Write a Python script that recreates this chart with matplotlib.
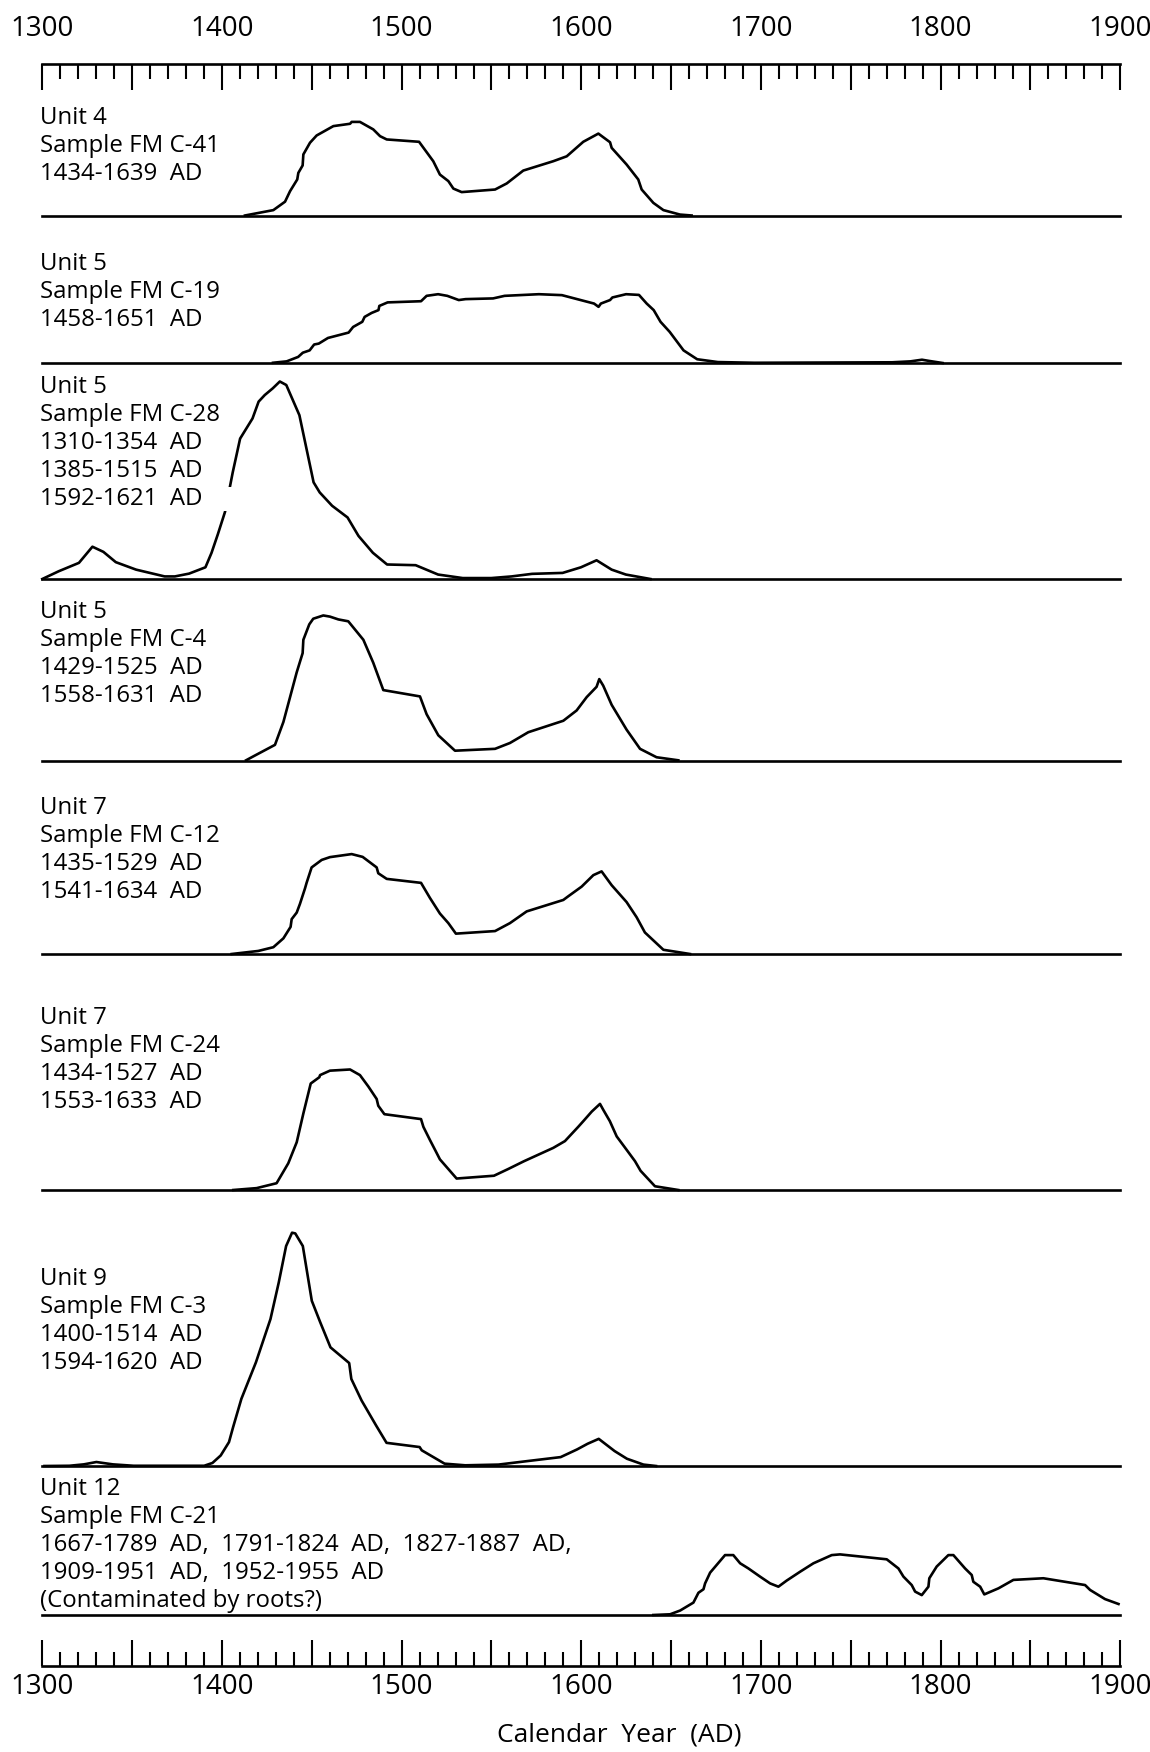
import matplotlib
matplotlib.use("Agg")
import matplotlib.pyplot as plt
from matplotlib.ticker import MultipleLocator, FuncFormatter

plt.rcParams['font.family'] = ['Open Sans', 'DejaVu Sans']

# Calibrated age distributions.
# Relative probability, tallest peak (FM C-3) = 100.
c41_year = [1412.8, 1428.6, 1435.1, 1437.9, 1441.9, 1442.5, 1444.9, 1445.3, 1449.0, 1452.7,
            1462.0, 1471.3, 1472.2, 1476.8, 1484.2, 1488.0, 1491.7, 1509.7, 1517.6, 1521.3,
            1526.0, 1528.8, 1533.4, 1552.0, 1558.5, 1567.7, 1584.4, 1591.9, 1601.1, 1609.5,
            1616.0, 1616.9, 1625.2, 1631.7, 1633.6, 1640.1, 1645.7, 1654.9, 1661.4]
c41_prob = [0, 2.3, 5.9, 10.4, 15.4, 18.2, 21.4, 26.1, 31.1, 34.2,
            38.2, 39.2, 40.0, 40.0, 36.8, 33.9, 32.5, 31.5, 23.2, 17.5,
            14.7, 11.5, 10.0, 11.1, 13.7, 19.2, 23.2, 25.3, 31.5, 35.0,
            31.3, 28.9, 21.8, 15.4, 11.1, 5.4, 2.3, 0.4, 0]

c19_year = [1428.4, 1436.0, 1442.4, 1445.0, 1448.8, 1451.3, 1453.9, 1459.0, 1470.5, 1473.0,
            1478.1, 1479.4, 1483.3, 1487.1, 1487.6, 1492.2, 1510.8, 1513.9, 1520.3, 1525.4,
            1531.8, 1535.6, 1550.9, 1557.3, 1576.4, 1589.2, 1607.1, 1609.6, 1610.9, 1616.0,
            1617.3, 1624.9, 1632.1, 1636.4, 1640.3, 1644.1, 1649.2, 1656.9, 1664.5, 1676.0,
            1696.4, 1773.0, 1783.2, 1789.6, 1793.5, 1801.1]
c19_prob = [0.1, 0.7, 2.6, 4.4, 5.4, 7.9, 8.3, 10.7, 13.0, 15.4,
            17.6, 19.7, 21.4, 22.6, 24.4, 25.9, 26.4, 28.7, 29.4, 28.7,
            26.9, 27.3, 27.6, 28.7, 29.4, 29.0, 25.4, 24.0, 25.4, 26.9,
            28.0, 29.4, 29.1, 25.4, 22.6, 17.6, 13.3, 5.4, 1.6, 0.4,
            0.1, 0.3, 0.7, 1.4, 0.9, 0]

c28_year = [1300.0, 1309.1, 1320.4, 1327.9, 1334.0, 1340.9, 1352.2, 1368.1, 1373.8, 1381.7,
            1390.8, 1394.2, 1397.7, 1401.7, 1406.0, 1410.1, 1417.0, 1420.4, 1423.8, 1428.3,
            1432.2, 1435.8, 1443.1, 1451.0, 1454.4, 1461.3, 1469.9, 1476.0, 1484.0, 1491.9,
            1507.8, 1520.3, 1534.0, 1549.9, 1561.2, 1572.6, 1589.6, 1599.8, 1608.5, 1616.9,
            1624.8, 1638.5]
c28_prob = [0, 3.3, 6.9, 13.8, 11.6, 7.2, 4.0, 1.1, 1.1, 2.3,
            5.0, 11.2, 19.1, 28.7, 45.6, 60.0, 68.6, 75.8, 78.6, 81.5,
            84.4, 82.9, 70.0, 41.3, 37.0, 31.3, 26.3, 18.4, 11.2, 6.2,
            5.9, 1.9, 0.4, 0.4, 1.1, 2.2, 2.6, 5.0, 8.0, 4.0,
            1.9, 0]

c4_year = [1413.4, 1417.5, 1429.5, 1434.2, 1437.9, 1441.6, 1444.9, 1445.3, 1448.6, 1450.8,
           1456.4, 1460.1, 1464.8, 1470.3, 1478.7, 1484.2, 1489.8, 1510.2, 1513.9, 1520.4,
           1529.7, 1552.0, 1560.3, 1570.5, 1590.0, 1597.4, 1603.0, 1608.5, 1610.0, 1612.2,
           1616.9, 1625.2, 1632.7, 1641.9, 1654.0]
c4_prob = [0.3, 2.0, 6.9, 16.7, 27.3, 37.9, 46.1, 51.8, 58.4, 60.8,
           62.2, 61.7, 60.5, 59.7, 51.8, 42.0, 30.3, 27.6, 20.0, 11.0,
           4.4, 5.2, 7.7, 12.3, 17.2, 21.6, 27.3, 31.7, 35.0, 32.2,
           24.0, 13.4, 5.2, 1.6, 0.3]

c12_year = [1405.4, 1420.2, 1428.6, 1434.2, 1438.2, 1438.8, 1441.6, 1443.4, 1446.2, 1447.1,
            1449.9, 1455.5, 1460.1, 1472.2, 1478.3, 1486.1, 1487.0, 1491.7, 1510.8, 1515.8,
            1521.3, 1526.0, 1530.2, 1552.0, 1560.3, 1569.6, 1590.0, 1592.8, 1600.2, 1606.7,
            1611.3, 1616.9, 1625.2, 1630.8, 1635.4, 1645.7, 1660.5]
c12_prob = [0, 1.3, 2.9, 6.7, 11.6, 14.9, 17.7, 21.4, 28.0, 30.4,
            37.0, 40.2, 41.4, 42.7, 41.5, 37.0, 34.5, 32.1, 30.4, 23.9,
            17.3, 13.2, 8.7, 9.8, 13.2, 18.2, 23.1, 24.7, 28.8, 33.7,
            35.3, 29.4, 22.2, 15.7, 9.2, 1.8, 0]

c24_year = [1406.3, 1419.3, 1430.4, 1436.9, 1441.6, 1445.3, 1449.4, 1454.2, 1454.6, 1460.1,
            1471.3, 1476.8, 1481.5, 1486.1, 1487.0, 1490.4, 1510.8, 1512.1, 1515.8, 1519.1,
            1521.3, 1530.6, 1551.4, 1559.4, 1568.1, 1584.4, 1590.9, 1598.3, 1601.1, 1605.8,
            1610.4, 1612.2, 1615.9, 1619.7, 1625.2, 1629.9, 1633.0, 1641.0, 1654.0]
c24_prob = [0, 0.8, 2.9, 11.4, 20.4, 32.7, 45.5, 48.2, 49.1, 51.0,
            51.5, 49.1, 44.2, 38.9, 36.0, 32.4, 30.3, 27.0, 21.3, 16.4,
            13.1, 4.9, 6.1, 9.0, 12.3, 18.0, 20.9, 27.0, 29.4, 33.5,
            36.8, 34.3, 29.4, 22.9, 17.2, 12.3, 8.2, 1.6, 0]

c3_year = [1301.2, 1315.1, 1323.1, 1330.1, 1339.3, 1350.8, 1390.1, 1394.7, 1399.3, 1403.9,
           1406.2, 1410.8, 1418.9, 1427.0, 1431.6, 1435.7, 1439.0, 1440.8, 1445.0, 1450.0,
           1454.7, 1460.4, 1470.8, 1472.0, 1477.7, 1485.8, 1491.6, 1510.0, 1511.2, 1523.9,
           1535.4, 1553.9, 1570.0, 1588.5, 1597.7, 1603.5, 1609.7, 1618.5, 1625.4, 1634.6,
           1641.6]
c3_prob = [0, 0.1, 0.7, 1.7, 0.7, 0.1, 0.1, 1.3, 4.5, 10.2,
           16.6, 28.7, 44.3, 62.8, 78.4, 94.0, 99.7, 99.4, 94.0, 70.6,
           61.4, 50.7, 44.0, 37.2, 28.0, 17.3, 9.9, 8.1, 6.7, 1.0,
           0.3, 0.6, 2.1, 3.8, 7.1, 9.5, 11.6, 6.4, 3.1, 0.6,
           0]

c21_year = [1640.1, 1649.4, 1655.0, 1662.4, 1665.2, 1668.0, 1668.9, 1671.7, 1680.0, 1684.6,
            1688.4, 1693.0, 1699.5, 1705.1, 1709.7, 1714.3, 1721.8, 1729.2, 1739.4, 1744.0,
            1770.0, 1776.5, 1779.3, 1783.9, 1785.8, 1789.5, 1793.2, 1793.7, 1797.8, 1804.3,
            1807.1, 1813.6, 1817.3, 1818.2, 1822.0, 1824.3, 1832.2, 1840.5, 1857.2, 1880.4,
            1883.2, 1891.5, 1899.0]
c21_prob = [0, 0.3, 1.9, 5.3, 9.5, 11.0, 13.5, 18.1, 25.6, 25.6,
            22.1, 19.9, 16.4, 13.5, 12.1, 14.7, 18.5, 22.1, 25.6, 25.9,
            23.8, 19.9, 16.4, 12.8, 10.0, 8.5, 12.1, 15.7, 20.7, 25.6,
            25.6, 19.9, 17.1, 14.2, 12.1, 8.8, 11.4, 15.0, 15.7, 12.8,
            10.7, 6.8, 4.7]

c41_label = ["Unit 4", "Sample FM C-41", "1434-1639  AD"]
c19_label = ["Unit 5", "Sample FM C-19", "1458-1651  AD"]
c28_label = ["Unit 5", "Sample FM C-28", "1310-1354  AD", "1385-1515  AD", "1592-1621  AD"]
c4_label = ["Unit 5", "Sample FM C-4", "1429-1525  AD", "1558-1631  AD"]
c12_label = ["Unit 7", "Sample FM C-12", "1435-1529  AD", "1541-1634  AD"]
c24_label = ["Unit 7", "Sample FM C-24", "1434-1527  AD", "1553-1633  AD"]
c3_label = ["Unit 9", "Sample FM C-3", "1400-1514  AD", "1594-1620  AD"]
c21_label = ["Unit 12", "Sample FM C-21",
             "1667-1789  AD,  1791-1824  AD,  1827-1887  AD,",
             "1909-1951  AD,  1952-1955  AD",
             "(Contaminated by roots?)"]

samples = [
    (c41_year, c41_prob, c41_label),
    (c19_year, c19_prob, c19_label),
    (c28_year, c28_prob, c28_label),
    (c4_year, c4_prob, c4_label),
    (c12_year, c12_prob, c12_label),
    (c24_year, c24_prob, c24_label),
    (c3_year, c3_prob, c3_label),
    (c21_year, c21_prob, c21_label),
]

# layout (pixels of the 1150x1752 figure)
W, H, DPI = 1150, 1752, 100
X_LEFT, X_RIGHT = 42.3, 1120.3
PX_PER_UNIT = 2.34
baselines = [215.5, 363, 579, 761, 954, 1190, 1466, 1615]
first_text = [124.5, 269.8, 392.8, 618.5, 814.1, 1024.2, 1284.6, 1494.7]
LINE_STEP = 28
LW = 1.9
FS = 17.3


def fx(px):
    return px / W


def fy(px):
    return 1 - px / H


def year_label(v, pos):
    return f"{v:.0f}" if round(v) % 100 == 0 else ""


fig = plt.figure(figsize=(W / DPI, H / DPI), dpi=DPI)

# outer frame carrying the two calendar scales
top_px, bot_px = 64, 1666
frame = fig.add_axes([fx(X_LEFT), fy(bot_px), (X_RIGHT - X_LEFT) / W, (bot_px - top_px) / H])
frame.patch.set_visible(False)
frame.set_xlim(1300, 1900)
frame.set_ylim(0, 1)
frame.set_yticks([])
for s in ('left', 'right', 'top'):
    frame.spines[s].set_visible(False)
frame.spines['bottom'].set_linewidth(LW)
frame.xaxis.set_major_locator(MultipleLocator(50))
frame.xaxis.set_minor_locator(MultipleLocator(10))
frame.xaxis.set_major_formatter(FuncFormatter(year_label))
frame.tick_params(axis='x', which='both', direction='in', width=1.5, labelsize=20, pad=5)
frame.tick_params(axis='x', which='major', length=19)
frame.tick_params(axis='x', which='minor', length=10)
frame.set_xlabel('Calendar  Year  (AD)', fontsize=19, va='center')
frame.xaxis.set_label_coords(0.535, -(1735 - bot_px) / (bot_px - top_px))

top = frame.twiny()
top.set_xlim(1300, 1900)
for s in ('left', 'right', 'bottom'):
    top.spines[s].set_visible(False)
top.spines['top'].set_linewidth(LW)
top.xaxis.set_major_locator(MultipleLocator(50))
top.xaxis.set_minor_locator(MultipleLocator(10))
top.xaxis.set_major_formatter(FuncFormatter(year_label))
top.tick_params(axis='x', which='both', direction='in', width=1.5, labelsize=20, pad=15)
top.tick_params(axis='x', which='major', length=19)
top.tick_params(axis='x', which='minor', length=11)

# one strip per sample
label_texts = []
for (years, probs, label), base, t0 in zip(samples, baselines, first_text):
    h = 200
    ax = fig.add_axes([fx(X_LEFT), fy(base), (X_RIGHT - X_LEFT) / W, h / H])
    ax.patch.set_visible(False)
    ax.set_xlim(1300, 1900)
    ax.set_ylim(0, h / PX_PER_UNIT)
    ax.plot(years, probs, color='black', lw=LW, clip_on=False, zorder=2,
            solid_joinstyle='round')
    for s in ('left', 'right', 'top'):
        ax.spines[s].set_visible(False)
    ax.spines['bottom'].set_linewidth(LW)
    ax.set_xticks([])
    ax.set_yticks([])
    texts = []
    for i, line in enumerate(label):
        texts.append(fig.text(fx(40), fy(t0 + i * LINE_STEP), line, fontsize=FS,
                              ha='left', va='baseline', zorder=5))
    label_texts.append(texts)

# in the original the last C-28 label line sits on a white box that
# hides a short piece of the rising curve
last = label_texts[2][-1]
last.set_text(last.get_text() + "\u00a0" * 9)
last.set_bbox(dict(boxstyle='square,pad=0', fc='white', ec='none'))

fig.savefig('out.png', dpi=DPI, facecolor='white')
